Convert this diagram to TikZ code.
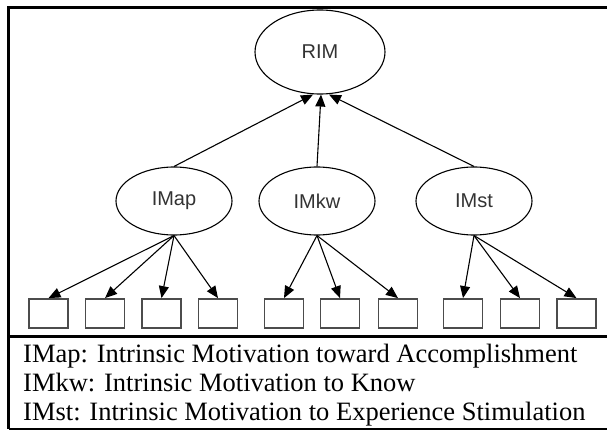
\documentclass[tikz,border=0pt]{standalone}
\usepackage{fontspec}
\setmainfont{Liberation Serif}
\newfontfamily\labelfont{Liberation Sans}
\usetikzlibrary{shapes.geometric, arrows.meta}
\tikzset{
    % Construct styles - ellipses
    construct/.style={
        ellipse,
        draw=black,
        fill=white,
        line width=1.1pt,
        minimum width=116pt,
        minimum height=68pt,
        inner sep=0pt,
        text=black!80,
        font=\labelfont\fontsize{20}{24}\selectfont
    },
    toplevel/.style={
        construct,
        minimum width=130pt,
        minimum height=84pt
    },
    % Item boxes
    itembox/.style={
        rectangle,
        draw=black!70,
        fill=white,
        line width=1.8pt,
        minimum width=39pt,
        minimum height=29pt,
        inner sep=0pt
    },
    % Arrow style
    arrow/.style={
        -{Triangle[length=12pt,width=10pt]},
        line width=1.1pt,
        draw=black
    },
    % Legend lines
    legend/.style={
        anchor=base west,
        inner sep=0pt,
        font=\fontsize{26.5}{29}\selectfont
    }
}

\begin{document}
\begin{tikzpicture}[x=1pt, y=-1pt]
    \useasboundingbox (0,0) rectangle (607,431);
    % frame, its right side runs off the page
    \draw[line width=2.6pt] (612,7.5) -- (8.5,7.5) -- (8.5,429);
    \draw[line width=2.2pt] (8.5,336.5) -- (612,336.5);
    \draw[line width=1.7pt] (8.5,429) -- (612,429);

    \node[toplevel] (rim) at (320,52) {RIM};
    \node[construct] (imap) at (174,201) {IMap};
    \node[construct] (imkw) at (317,201) {IMkw};
    \node[construct] (imst) at (474,201) {IMst};

    \foreach \n/\x in {1/48.5, 2/105, 3/161.5, 4/218, 5/284, 6/340, 7/398, 8/463, 9/520, 10/576.5}
        \node[itembox] (b\n) at (\x,313.5) {};

    \draw[arrow] (imap.north) -- ([xshift=-7pt]rim.south);
    \draw[arrow] (imkw.north) -- ([xshift=1pt]rim.south);
    \draw[arrow] (imst.north) -- ([xshift=9pt]rim.south);

    \foreach \n in {1,...,4}
        \draw[arrow] (imap.south) -- (b\n.north);
    \foreach \n in {5,6,7}
        \draw[arrow] (imkw.south) -- (b\n.north);
    \foreach \n in {8,9,10}
        \draw[arrow] (imst.south) -- (b\n.north);

    \node[legend] (lap) at (23,362) {IMap: Intrinsic Motivation toward Accomplishment};
    \node[legend] (lkw) at (23,391) {IMkw: Intrinsic Motivation to Know};
    \node[legend] (lst) at (23,420) {IMst: Intrinsic Motivation to Experience Stimulation};
\end{tikzpicture}
\end{document}
